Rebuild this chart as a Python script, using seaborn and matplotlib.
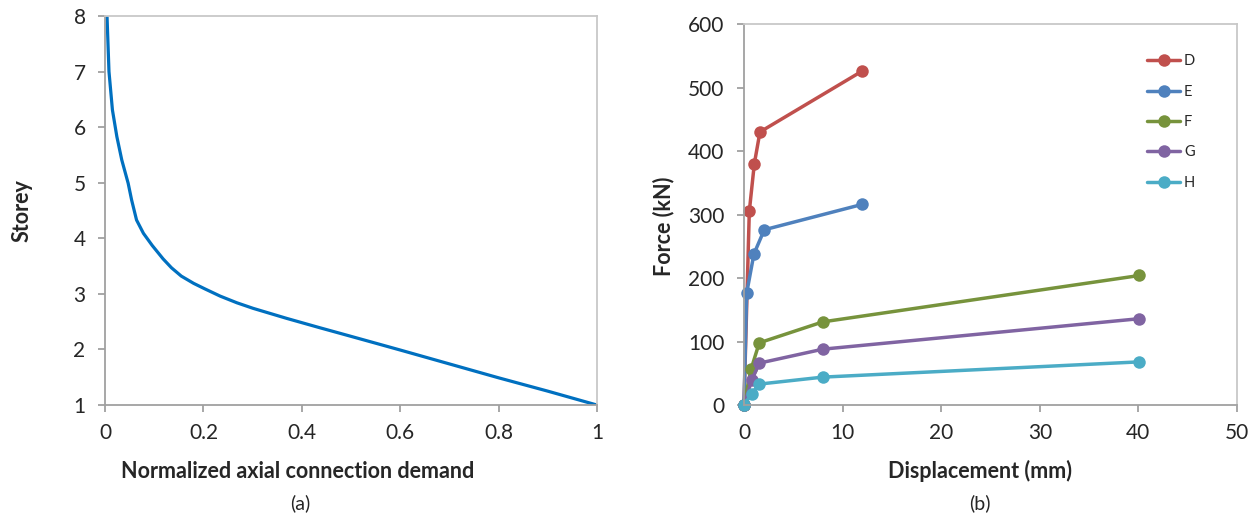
import pandas as pd
import numpy as np
import seaborn as sns
import matplotlib.pyplot as plt

# (a) normalized axial connection demand vs storey
demand = [0.004, 0.006, 0.008, 0.015, 0.024, 0.034, 0.047, 0.054, 0.064, 0.078,
          0.096, 0.118, 0.135, 0.155, 0.18, 0.203, 0.234, 0.268, 0.301, 0.369, 0.437,
          0.478, 0.535, 0.6, 0.7, 0.8, 0.9, 1.0]
storey = [8.0, 7.5, 7.0, 6.31, 5.83, 5.41, 4.99, 4.69, 4.33, 4.09,
          3.87, 3.63, 3.47, 3.32, 3.19, 3.09, 2.96, 2.84, 2.74, 2.56, 2.39,
          2.29, 2.15, 1.99, 1.74, 1.49, 1.25, 1.0]

# (b) force-displacement curves
disp_D = [0, 0.54, 1.05, 1.62, 12.0]
force_D = [0, 305, 380, 430, 526]
disp_E = [0, 0.27, 1.01, 2.06, 12.0]
force_E = [0, 176, 238, 276, 316]
disp_F = [0, 0.71, 1.55, 8.0, 40.1]
force_F = [0, 56, 98, 131, 204]
disp_G = [0, 0.78, 1.55, 8.0, 40.1]
force_G = [0, 39, 66, 88, 136]
disp_H = [0, 0.78, 1.55, 8.0, 40.1]
force_H = [0, 18, 33, 44, 68]

series = {"D": (disp_D, force_D), "E": (disp_E, force_E), "F": (disp_F, force_F),
          "G": (disp_G, force_G), "H": (disp_H, force_H)}
colors = {"D": "#C0504D", "E": "#4F81BD", "F": "#77933C", "G": "#8064A2", "H": "#4BACC6"}

df_a = pd.DataFrame({"demand": demand, "storey": storey})
df_b = pd.concat([pd.DataFrame({"disp": d, "force": f, "curve": k})
                  for k, (d, f) in series.items()], ignore_index=True)

sns.set_style("white")
plt.rcParams["font.family"] = ["Lato", "DejaVu Sans"]
dark = "#A0A0A0"
light = "#C8C8C8"

fig = plt.figure(figsize=(12.58, 5.16), dpi=100)
ax1 = fig.add_axes([0.0835, 0.215, 0.3911, 0.754])
ax2 = fig.add_axes([0.5914, 0.215, 0.3919, 0.7385])

sns.lineplot(data=df_a, x="demand", y="storey", sort=False, color="#0070C0",
             linewidth=2.3, ax=ax1)
ax1.set_xlim(0, 1)
ax1.set_ylim(1, 8)
ax1.set_xticks([0, 0.2, 0.4, 0.6, 0.8, 1])
ax1.set_xticklabels(["0", "0.2", "0.4", "0.6", "0.8", "1"])
ax1.set_yticks(range(1, 9))
ax1.set_xlabel("Normalized axial connection demand", fontsize=15.5, fontweight="bold")
ax1.set_ylabel("Storey", fontsize=15.5, fontweight="bold")
ax1.xaxis.set_label_coords(0.392, -0.143)
ax1.yaxis.set_label_coords(-0.148, 0.5)

sns.lineplot(data=df_b, x="disp", y="force", hue="curve", palette=colors, sort=False,
             marker="o", markersize=9, markeredgewidth=0, linewidth=2.5, ax=ax2)
for ln in ax2.lines:
    ln.set_clip_on(False)
ax2.set_xlim(0, 50)
ax2.set_ylim(0, 600)
ax2.set_xticks(range(0, 51, 10))
ax2.set_yticks(range(0, 601, 100))
ax2.set_xlabel("Displacement (mm)", fontsize=15.5, fontweight="bold")
ax2.set_ylabel("Force (kN)", fontsize=15.5, fontweight="bold")
ax2.xaxis.set_label_coords(0.479, -0.145)
ax2.yaxis.set_label_coords(-0.142, 0.47)
ax2.legend(title=None, loc="upper left", bbox_to_anchor=(0.817, 0.92), frameon=False,
           fontsize=10.5, handlelength=2.3, labelspacing=1.12, handletextpad=0.25,
           borderpad=0, borderaxespad=0)

for ax in (ax1, ax2):
    for side in ("left", "bottom"):
        ax.spines[side].set_color(dark)
        ax.spines[side].set_linewidth(1.3)
    for side in ("top", "right"):
        ax.spines[side].set_color(light)
        ax.spines[side].set_linewidth(1.3)
    ax.tick_params(axis="both", which="both", direction="out", length=5, width=1.3,
                   color=dark, labelsize=15, left=True, bottom=True)
    ax.tick_params(axis="x", pad=8)
    ax.tick_params(axis="y", pad=9)

fig.text(0.2385, 0.025, "(a)", fontsize=14, ha="center", va="center")
fig.text(0.779, 0.025, "(b)", fontsize=14, ha="center", va="center")

fig.savefig("out.png", dpi=100)
